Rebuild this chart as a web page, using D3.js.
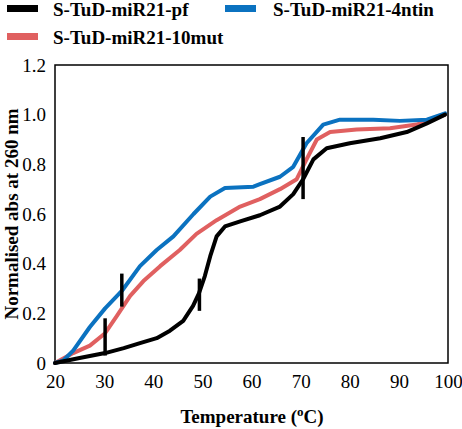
<!DOCTYPE html>
<html><head><meta charset="utf-8">
<script src="https://cdn.jsdelivr.net/npm/d3@7"></script>
<style>
body{margin:0;background:#fff}
svg{display:block}
svg text, svg tspan{font-family:"Liberation Serif","Times New Roman",serif !important}
</style>
</head><body>
<svg id="c" width="462" height="429"></svg>
<script>
const seriesNames = ["S-TuD-miR21-pf", "S-TuD-miR21-4ntin", "S-TuD-miR21-10mut"];
const seriesColors = ["#000000", "#0b72c0", "#e06060"];
const pfT = [20,25,30.2,34,37.3,40.7,43.4,46.1,48.1,49.3,50.5,51.6,52.9,54.6,57.7,61.7,65.8,68.5,70.5,72.6,75.3,80,86.2,91.6,95.7,99.4];
const pfV = [0,0.02,0.04,0.06,0.08,0.10,0.13,0.17,0.23,0.28,0.35,0.43,0.51,0.55,0.57,0.595,0.63,0.68,0.74,0.82,0.865,0.885,0.905,0.93,0.965,1.0];
const ntinT = [20,21.7,23.7,27.1,30.2,33.6,37.3,40.7,44.1,48.2,51.6,54.6,60.4,61.7,65.8,68.5,71.2,74.6,78,84.8,90.2,95.7,99.4];
const ntinV = [0,0.01,0.05,0.145,0.22,0.29,0.39,0.455,0.51,0.60,0.67,0.705,0.71,0.72,0.75,0.79,0.885,0.96,0.98,0.98,0.975,0.98,1.005];
const mutT = [20,23.7,27.1,30.2,32.6,35.3,38,41.4,45.4,48.8,52.9,57.7,61.7,65.8,69.2,71.2,73.3,76,81.4,88.2,93.6,99.4];
const mutV = [0,0.04,0.07,0.12,0.19,0.27,0.33,0.39,0.455,0.52,0.575,0.63,0.66,0.70,0.74,0.82,0.90,0.93,0.94,0.945,0.96,1.0];
const barT = [30.2, 33.6, 49.4, 70.5];
const barLo = [0.03, 0.227, 0.21, 0.66];
const barHi = [0.18, 0.36, 0.34, 0.91];
const xTicks = [20,30,40,50,60,70,80,90,100];
const yTicks = [0,0.2,0.4,0.6,0.8,1.0,1.2];

const svg = d3.select("#c");
const L=55, R=448, T=65, B=363;
const x = d3.scaleLinear().domain([20,100]).range([L,R]);
const y = d3.scaleLinear().domain([0,1.2]).range([B,T]);
const serif = '"Liberation Serif", "Times New Roman", serif';

svg.append("rect").attr("x",L).attr("y",T).attr("width",R-L).attr("height",B-T)
  .attr("fill","none").attr("stroke","#000").attr("stroke-width",1.5);

const xa = svg.append("g").attr("transform",`translate(0,${B})`)
  .call(d3.axisBottom(x).tickValues(xTicks).tickSize(0).tickPadding(12).tickFormat(d3.format("d")));
const ya = svg.append("g").attr("transform",`translate(${L},0)`)
  .call(d3.axisLeft(y).tickValues(yTicks).tickSize(0).tickPadding(9).tickFormat(d=> d===0?"0":d3.format(".1f")(d)));
[xa,ya].forEach(g=>{g.select(".domain").remove();
  g.attr("font-family",serif).attr("font-size",19);
  g.selectAll("text").attr("font-family",serif).style("font-family",serif).style("font-size","19px").attr("fill","#000");});

const line = d3.line().x(d=>x(d[0])).y(d=>y(d[1]));
const data = [
  {name:seriesNames[2], c:seriesColors[2], pts:d3.zip(mutT,mutV)},
  {name:seriesNames[1], c:seriesColors[1], pts:d3.zip(ntinT,ntinV)},
  {name:seriesNames[0], c:seriesColors[0], pts:d3.zip(pfT,pfV)}
];
svg.append("g").selectAll("path").data(data).join("path")
  .attr("d",d=>line(d.pts)).attr("fill","none").attr("stroke",d=>d.c)
  .attr("stroke-width",4).attr("stroke-linejoin","round").attr("stroke-linecap","round");

svg.append("g").selectAll("line").data(barT).join("line")
  .attr("x1",d=>x(d)).attr("x2",d=>x(d))
  .attr("y1",(d,i)=>y(barLo[i])).attr("y2",(d,i)=>y(barHi[i]))
  .attr("stroke","#000").attr("stroke-width",3.5);

const leg = [
  {i:0, sx:7, ty:8.5, tx:53},
  {i:1, sx:225, ty:8.5, tx:273},
  {i:2, sx:7, ty:36.5, tx:53}
];
const lg = svg.append("g");
leg.forEach(l=>{
  lg.append("rect").attr("x",l.sx).attr("y",l.ty-3.5).attr("width",31).attr("height",7).attr("fill",seriesColors[l.i]);
  lg.append("text").attr("x",l.tx).attr("y",l.ty+7).attr("font-family",serif).style("font-family",serif).style("font-weight","bold")
    .style("font-size","19px").text(seriesNames[l.i]);
});

const xt = svg.append("text").attr("x",252).attr("y",423).attr("text-anchor","middle")
  .attr("font-family",serif).style("font-family",serif).style("font-weight","bold").style("font-size","19px");
xt.append("tspan").text("Temperature (");
xt.append("tspan").style("font-size","13px").attr("dy",-7).text("o");
xt.append("tspan").attr("dy",7).text("C)");

svg.append("text").attr("transform","translate(18,214) rotate(-90)").attr("text-anchor","middle")
  .attr("font-family",serif).style("font-family",serif).style("font-weight","bold").style("font-size","19px")
  .text("Normalised abs at 260 nm");
</script>
</body></html>
